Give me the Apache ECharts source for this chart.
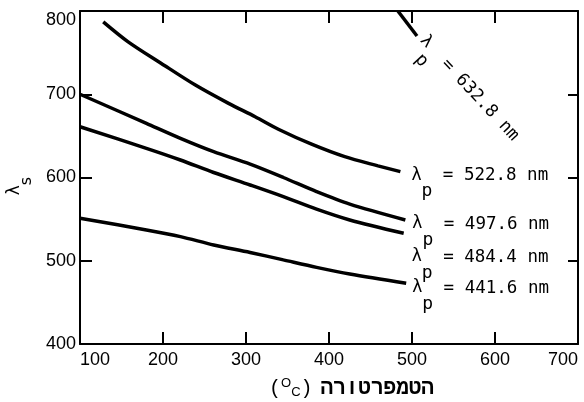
<!DOCTYPE html>
<html>
<head>
<meta charset="utf-8">
<script src="https://cdn.jsdelivr.net/npm/echarts@6/dist/echarts.min.js"></script>
<style>
  html, body { margin: 0; padding: 0; background: #fff; }
  #chart { width: 584px; height: 402px; }
</style>
</head>
<body>
<div id="chart"></div>
<script>
// signal wavelength vs temperature, one curve per pump wavelength
const temp6328 = [483, 506]
const lam6328 = [800, 770]
const temp5228 = [128, 158, 198, 239, 279, 311, 339, 379, 419, 459, 486]
const lam5228 = [787, 763, 737, 711, 689, 673, 658, 640, 625, 614, 607]
const temp4976 = [100, 180, 221, 261, 305, 345, 385, 425, 492]
const lam4976 = [700, 665, 647, 631, 616, 600, 583, 568, 549]
const temp4844 = [100, 180, 221, 261, 305, 345, 385, 425, 490]
const lam4844 = [661, 635, 621, 606, 591, 577, 562, 549, 533]
const temp4416 = [100, 180, 221, 261, 305, 345, 385, 425, 493]
const lam4416 = [551, 537, 529, 519, 510, 501, 492, 484, 473]
const pumpNames = ['632.8', '522.8', '497.6', '484.4', '441.6']

const xMin = 100
const xMax = 700
const yMin = 400
const yMax = 800
const step = 100

const curves = [
  [temp6328, lam6328],
  [temp5228, lam5228],
  [temp4976, lam4976],
  [temp4844, lam4844],
  [temp4416, lam4416]
]

// where each label's lambda sits, relative to the end of its curve (px), and its angle
const labelPlace = [
  { dx: 9, dy: 6, angle: -47 },
  { dx: 16, dy: 4, angle: 0 },
  { dx: 12, dy: 4, angle: 0 },
  { dx: 13, dy: 24, angle: 0 },
  { dx: 11, dy: 5, angle: 0 }
]

const black = '#000'
const tickFont = 'Liberation Sans, Arial, sans-serif'

function frameAxis (extra) {
  return Object.assign({
    type: 'value',
    interval: step,
    splitLine: { show: false },
    axisLine: { show: true, onZero: false, lineStyle: { color: black, width: 2 } },
    axisTick: { show: true, inside: true, length: 12, lineStyle: { color: black, width: 2 } }
  }, extra)
}

const chart = echarts.init(document.getElementById('chart'), null, { renderer: 'canvas' })

const seriesOpts = curves.map((c, i) => ({
  name: pumpNames[i],
  type: 'line',
  data: c[0].map((t, k) => [t, c[1][k]]),
  showSymbol: false,
  smooth: 0.3,
  silent: true,
  lineStyle: { color: black, width: 3.5 }
}))

chart.setOption({
  animation: false,
  backgroundColor: '#fff',
  grid: { left: 80, right: 6, top: 11, bottom: 58, containLabel: false, outerBoundsMode: 'none' },
  xAxis: [
    frameAxis({
      min: xMin,
      max: xMax,
      position: 'bottom',
      axisLabel: {
        color: black,
        fontSize: 18,
        fontFamily: tickFont,
        margin: 7,
        alignMinLabel: 'left',
        alignMaxLabel: 'right'
      },
      name: '{par|(}{sup|O}{c|C}{par|)}{h|הטמפרטורה}',
      nameLocation: 'middle',
      nameGap: 33,
      nameTextStyle: {
        padding: [0, 0, 0, 45],
        rich: {
          par: { fontSize: 20, fontFamily: 'Liberation Mono', color: black, lineHeight: 24 },
          sup: { fontSize: 13, fontFamily: 'Liberation Sans', color: black, lineHeight: 13, verticalAlign: 'top' },
          c: { fontSize: 13, fontFamily: 'Liberation Sans', color: black, lineHeight: 13, verticalAlign: 'bottom', padding: [0, 0, 2, 0] },
          h: { fontSize: 21, fontFamily: 'Liberation Mono', fontWeight: 'bold', color: black, lineHeight: 24, padding: [0, 0, 0, 8] }
        }
      }
    }),
    frameAxis({
      min: xMin,
      max: xMax,
      position: 'top',
      axisLabel: { show: false }
    })
  ],
  yAxis: [
    frameAxis({
      min: yMin,
      max: yMax,
      position: 'left',
      axisLabel: {
        color: black,
        fontSize: 18,
        fontFamily: tickFont,
        margin: 4,
        verticalAlignMaxLabel: 'top'
      },
      name: '{l|λ}{s|s}',
      nameLocation: 'middle',
      nameRotate: 90,
      nameGap: 44,
      nameTextStyle: {
        padding: [0, 17, 0, 0],
        rich: {
          l: { fontSize: 17, fontFamily: 'DejaVu Sans', color: black, lineHeight: 17, verticalAlign: 'top' },
          s: { fontSize: 16, fontFamily: 'DejaVu Sans', color: black, lineHeight: 16, verticalAlign: 'top', padding: [13, 0, 0, 0] }
        }
      }
    }),
    frameAxis({
      min: yMin,
      max: yMax,
      position: 'right',
      axisTick: { show: true, inside: true, length: 10, lineStyle: { color: black, width: 2 } },
      axisLabel: { show: false }
    })
  ],
  series: seriesOpts
})

// pump wavelength labels, hung off the end of each curve
const labelRich = {
  l: { fontSize: 17, fontFamily: 'DejaVu Sans', fill: black, lineHeight: 18, verticalAlign: 'top' },
  p: { fontSize: 18, fontFamily: 'DejaVu Sans Mono', fill: black, lineHeight: 18, verticalAlign: 'top', padding: [16, 0, 0, 0] },
  t: { fontSize: 17.5, fontFamily: 'DejaVu Sans Mono', fill: black, lineHeight: 18, verticalAlign: 'top' }
}

const graphics = curves.map((c, i) => {
  const last = c[0].length - 1
  const end = chart.convertToPixel({ gridIndex: 0 }, [c[0][last], c[1][last]])
  const place = labelPlace[i]
  return {
    type: 'text',
    silent: true,
    x: end[0] + place.dx - 5,
    y: end[1] + place.dy - 9,
    originX: 5,
    originY: 9,
    rotation: place.angle * Math.PI / 180,
    style: {
      text: '{l|λ}{p|p}{t| = ' + pumpNames[i] + ' nm}',
      rich: labelRich,
      align: 'left',
      verticalAlign: 'top',
      fill: black
    }
  }
})

chart.setOption({ graphic: graphics })
</script>
</body>
</html>
